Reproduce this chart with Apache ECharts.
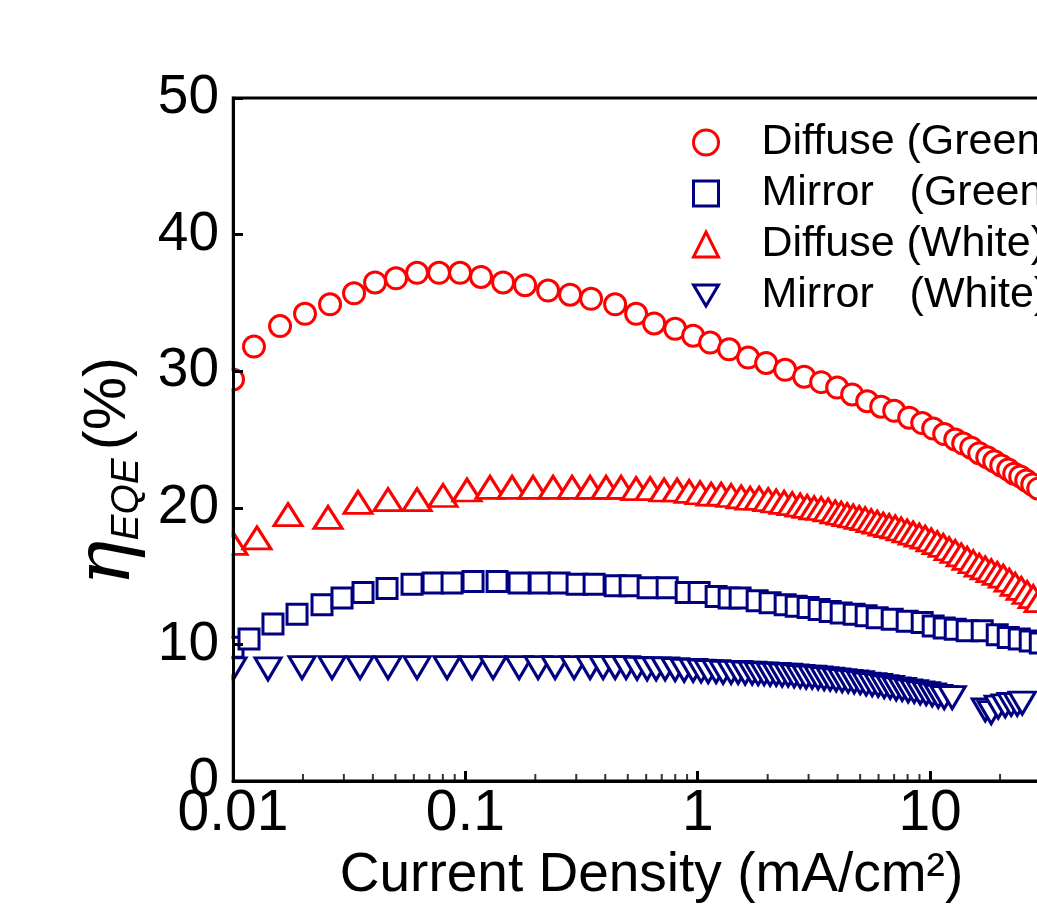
<!DOCTYPE html>
<html><head><meta charset="utf-8">
<script src="https://cdn.jsdelivr.net/npm/echarts@6/dist/echarts.min.js"></script>
<style>html,body{margin:0;padding:0;background:#fff}#c{width:1037px;height:921px}</style>
</head><body><div id="c"></div>
<script>
const seriesNames = ['Diffuse (Green)', 'Mirror   (Green)', 'Diffuse (White)', 'Mirror   (White)'];
const xTickLabels = ['0.01', '0.1', '1', '10', '100'];
const yTickLabels = ['0', '10', '20', '30', '40', '50'];
const minorTickValues = [0.02,0.03,0.04,0.05,0.06,0.07,0.08,0.09,0.2,0.3,0.4,0.5,0.6,0.7,0.8,0.9,2,3,4,5,6,7,8,9,20,30];

const jDiffuseGreen = [0.01,0.01231,0.01594,0.02041,0.02616,0.03318,0.04087,0.05031,0.06196,0.07703,
  0.09489,0.1168,0.1453,0.1807,0.2270,0.2823,0.3476,0.4410,0.5430,0.6491,
  0.7994,0.9555,1.131,1.365,1.648,1.970,2.378,2.871,3.398,3.982,
  4.619,5.362,6.160,7.007,8.128,9.247,10.31,11.50,12.83,13.88,
  15.03,16.27,17.62,18.88,20.24,21.69,23.01,24.43,25.93,27.51,29.19];
const eqeDiffuseGreen = [29.4,31.8,33.3,34.2,34.9,35.7,36.5,36.8,37.2,37.2,
  37.2,36.9,36.5,36.3,35.9,35.6,35.3,34.9,34.2,33.5,
  33.1,32.6,32.1,31.6,31.0,30.6,30.1,29.6,29.2,28.8,
  28.3,27.8,27.4,27.1,26.6,26.2,25.8,25.4,25.0,24.7,
  24.4,24.0,23.7,23.4,23.1,22.8,22.5,22.3,22.0,21.7,21.4];

const jMirrorGreen = [0.01,0.01172,0.01486,0.01886,0.02416,0.02946,0.03627,0.04601,0.05896,0.07261,
  0.08765,0.1079,0.1369,0.1703,0.2097,0.2532,0.3025,0.3581,0.4410,0.5117,
  0.6116,0.7385,0.8916,1.014,1.200,1.365,1.522,1.802,2.049,2.378,
  2.653,2.987,3.331,3.715,4.143,4.713,5.307,5.919,6.869,7.968,
  9.247,10.31,11.50,12.83,14.44,16.76,19.45,21.69,24.19,26.97,29.79];
const eqeMirrorGreen = [9.8,10.4,11.5,12.2,12.9,13.4,13.8,14.1,14.4,14.5,
  14.5,14.6,14.6,14.5,14.5,14.5,14.4,14.4,14.3,14.3,
  14.15,14.15,13.8,13.8,13.5,13.4,13.4,13.2,13.05,12.9,
  12.8,12.7,12.55,12.4,12.3,12.2,12.1,11.95,11.85,11.7,
  11.6,11.35,11.2,11.1,11.0,11.0,10.7,10.5,10.4,10.25,10.1];

const jDiffuseWhite = [0.01,0.01268,0.01725,0.02564,0.03452,0.04647,0.06196,0.08017,0.1017,0.1277,
  0.1589,0.1956,0.2385,0.2880,0.3442,0.4033,0.4680,0.5430,0.6238,0.7168,
  0.8155,0.9184,1.024,1.142,1.261,1.392,1.538,1.681,1.838,2.010,
  2.176,2.354,2.550,2.760,2.957,3.170,3.398,3.642,3.904,4.143,
  4.396,4.667,4.954,5.255,5.579,5.919,6.283,6.667,7.075,7.509,
  7.968,8.458,8.978,9.526,10.11,10.73,11.39,12.08,12.83,13.61,
  14.44,15.33,16.27,17.27,18.32,19.45,20.64,21.90,23.24,24.67,
  26.18,27.78,29.49];
const eqeDiffuseWhite = [17.4,17.8,19.5,19.3,20.4,20.6,20.6,20.9,21.3,21.5,
  21.5,21.5,21.5,21.5,21.5,21.5,21.5,21.4,21.4,21.3,
  21.3,21.2,21.1,21.0,21.0,20.9,20.8,20.7,20.7,20.6,
  20.5,20.4,20.3,20.2,20.1,20.0,19.95,19.85,19.7,19.6,
  19.5,19.4,19.3,19.2,19.05,18.95,18.8,18.7,18.6,18.45,
  18.3,18.15,18.0,17.85,17.65,17.45,17.25,17.0,16.8,16.55,
  16.3,16.05,15.8,15.6,15.4,15.2,15.0,14.7,14.4,14.1,
  13.8,13.5,13.2];

const jMirrorWhite = [0.01,0.01415,0.01982,0.02668,0.03522,0.04647,0.06196,0.08342,0.1069,0.1316,
  0.1703,0.2056,0.2433,0.2937,0.3442,0.3915,0.4410,0.4918,0.5484,0.6056,
  0.6621,0.7239,0.7994,0.8741,0.9555,1.034,1.109,1.200,1.286,1.392,
  1.492,1.600,1.715,1.820,1.931,2.049,2.176,2.308,2.450,2.600,
  2.760,2.928,3.108,3.298,3.500,3.715,3.943,4.184,4.441,4.713,
  5.003,5.307,5.633,5.978,6.345,6.734,7.146,7.584,8.048,8.543,
  9.066,9.622,10.21,10.84,11.50,12.45,17.27,18.32,19.64,21.05,
  22.34,23.71,24.92];
const eqeMirrorWhite = [8.2,8.2,8.3,8.3,8.3,8.3,8.3,8.3,8.3,8.3,
  8.3,8.3,8.3,8.3,8.3,8.3,8.3,8.3,8.25,8.2,
  8.2,8.2,8.15,8.1,8.1,8.05,8.0,8.0,7.95,7.95,
  7.95,7.9,7.9,7.85,7.85,7.8,7.8,7.75,7.75,7.7,
  7.65,7.6,7.6,7.55,7.5,7.45,7.4,7.35,7.3,7.25,
  7.2,7.1,7.05,7.0,6.9,6.85,6.75,6.7,6.6,6.55,
  6.45,6.4,6.3,6.2,6.1,6.1,5.2,5.0,5.4,5.5,
  5.6,5.6,5.7];

const RED = '#ff0000', NAVY = '#000080';
const FONT = 'Liberation Sans, Arial, sans-serif';
const pairs = (xs, ys) => xs.map((x, i) => [x, ys[i]]);
const downTri = 'path://M0,0L20,0L10,17Z';

const chart = echarts.init(document.getElementById('c'), null, {renderer: 'canvas'});
const hollow = (c) => ({color: '#ffffff', borderColor: c, borderWidth: 3, opacity: 1});

chart.setOption({
  animation: false,
  backgroundColor: '#ffffff',
  grid: {left: 233, top: 98, bottom: 140, right: -33, outerBoundsMode: 'none', containLabel: false,
         show: true, borderColor: '#000', borderWidth: 3, backgroundColor: 'transparent'},
  legend: {
    orient: 'vertical', left: 687, top: 112, itemWidth: 25, itemHeight: 25, itemGap: 0,
    selectedMode: false,
    textStyle: {fontSize: 43, fontFamily: FONT, color: '#000', lineHeight: 51, padding: [0, 0, 0, 38]},
    itemStyle: {borderWidth: 3},
    data: seriesNames
  },
  xAxis: {
    type: 'log', logBase: 10, min: 0.01, max: 40, z: 10,
    name: 'Current Density (mA/cm²)', nameLocation: 'middle', nameGap: 62,
    nameTextStyle: {fontSize: 55, fontFamily: FONT, color: '#000'},
    axisLine: {lineStyle: {color: '#000', width: 3}},
    axisTick: {inside: true, length: 10, lineStyle: {color: '#000', width: 3}},
    axisLabel: {fontSize: 57, fontFamily: FONT, color: '#000', margin: 5,
      formatter: v => { const i = xTickLabels.findIndex(t => Math.abs(Math.log10(v) - Math.log10(parseFloat(t))) < 1e-6); return i >= 0 ? xTickLabels[i] : ''; }},
    splitLine: {show: false}
  },
  yAxis: {
    type: 'value', min: 0, max: 50, interval: 10, z: 10,
    name: '{e|η}{s|EQE}{p|(%)}', nameLocation: 'middle', nameRotate: 90, nameGap: 86,
    nameTextStyle: {padding: [0, 64, 0, 0], rich: {
      e: {fontFamily: 'DejaVu Serif, serif', fontStyle: 'italic', fontSize: 76, color: '#000'},
      s: {fontFamily: FONT, fontStyle: 'italic', fontSize: 39, color: '#000', verticalAlign: 'bottom', padding: [0, 8, 0, 0]},
      p: {fontFamily: FONT, fontSize: 60, color: '#000'}
    }},
    axisLine: {lineStyle: {color: '#000', width: 3}},
    axisTick: {inside: true, length: 10, lineStyle: {color: '#000', width: 3}},
    axisLabel: {fontSize: 55, fontFamily: FONT, color: '#000', margin: 14,
      formatter: v => yTickLabels[Math.round(v / 10)] ?? ''},
    splitLine: {show: false}
  },
  graphic: [{type: 'rect', z: 5, silent: true, shape: {x: 215, y: 90, width: 16.5, height: 700}, style: {fill: '#fff'}}],
  series: [
    {type: 'scatter', name: seriesNames[2], data: pairs(jDiffuseWhite, eqeDiffuseWhite), symbol: 'triangle', symbolSize: [28, 22], itemStyle: hollow(RED), z: 2},
    {type: 'scatter', name: seriesNames[3], data: pairs(jMirrorWhite, eqeMirrorWhite), symbol: downTri, symbolSize: [26, 22], itemStyle: hollow(NAVY), z: 2},
    {type: 'scatter', name: seriesNames[1], data: pairs(jMirrorGreen, eqeMirrorGreen), symbol: 'rect', symbolSize: 20, itemStyle: hollow(NAVY), z: 2},
    {type: 'scatter', name: seriesNames[0], data: pairs(jDiffuseGreen, eqeDiffuseGreen), symbol: 'circle', symbolSize: 21, itemStyle: hollow(RED), z: 2},
    {type: 'scatter', name: 'minorTicks', silent: true, clip: false, z: 11,
     data: minorTickValues.map(v => [v, 0]), symbol: 'rect', symbolSize: [2, 6], symbolOffset: [0, -4],
     itemStyle: {color: '#000'}, emphasis: {disabled: true}}
  ]
});
</script>
</body></html>
